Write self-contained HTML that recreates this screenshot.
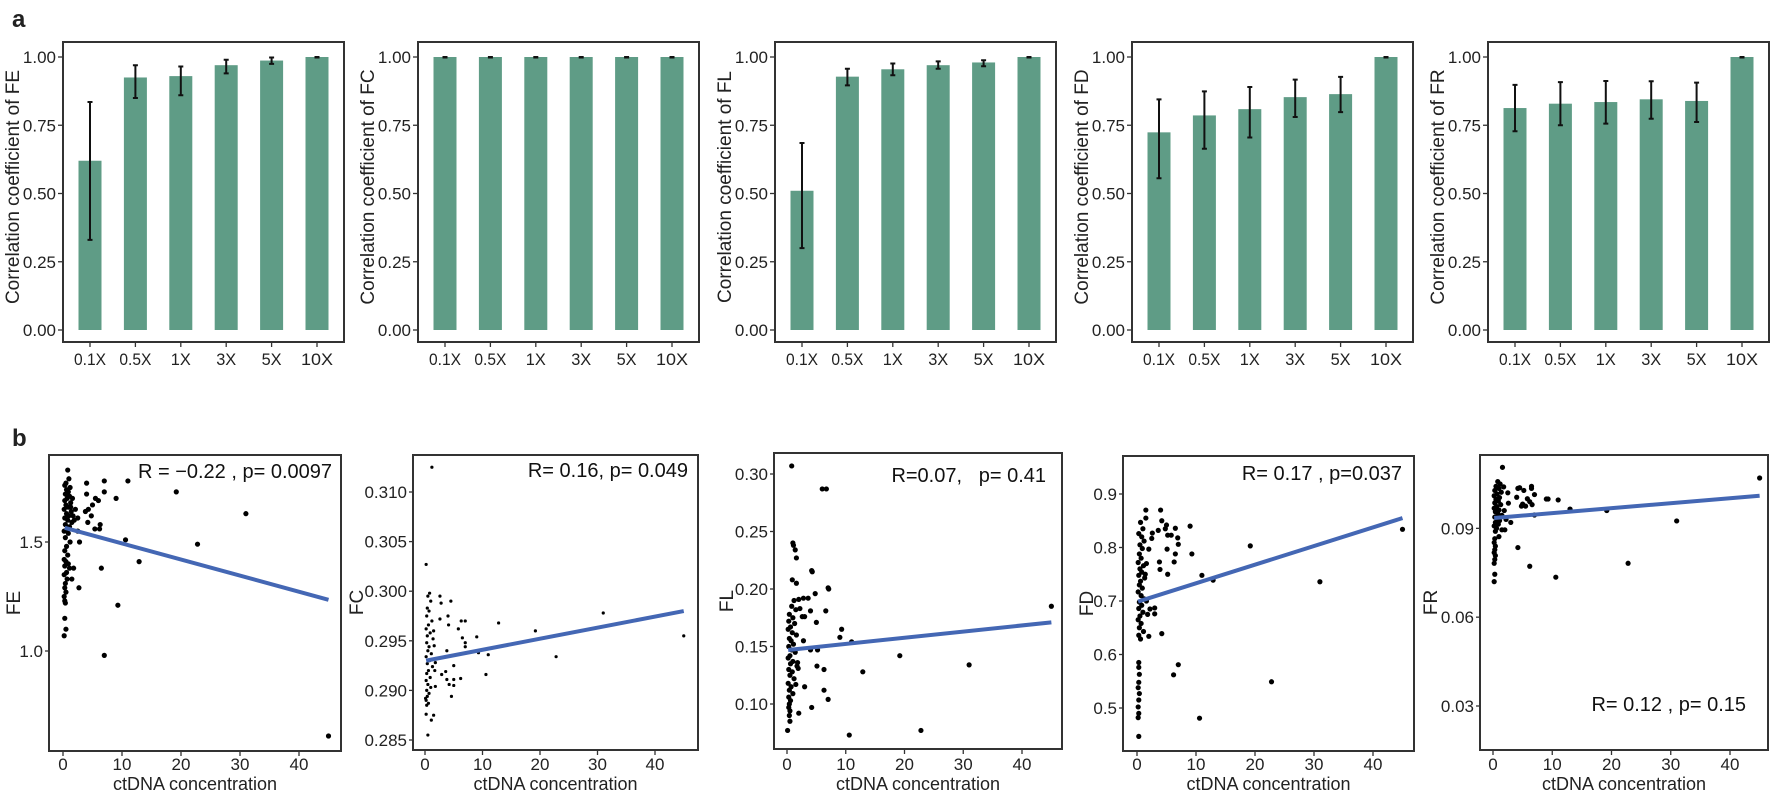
<!DOCTYPE html>
<html><head><meta charset="utf-8">
<style>
html,body{margin:0;padding:0;background:#fff;}
svg{display:block;font-family:"Liberation Sans",Arial,sans-serif;}
</style></head>
<body>
<svg id="fig" width="1772" height="794" viewBox="0 0 1772 794">
<text x="12" y="27" font-size="24" font-weight="bold" fill="#222">a</text>
<text x="12" y="446" font-size="24" font-weight="bold" fill="#222">b</text>
</svg>
<script>
// ---------- bar chart data ----------
const barCategories = ["0.1X","0.5X","1X","3X","5X","10X"];
const barMetrics = ["FE","FC","FL","FD","FR"];
const feMean = [0.62,0.925,0.93,0.97,0.987,1.0];
const feLo   = [0.33,0.85,0.86,0.94,0.975,0.998];
const feHi   = [0.835,0.97,0.965,0.99,0.998,1.0];
const fcMean = [1.0,1.0,1.0,1.0,1.0,1.0];
const fcLo   = [0.998,0.998,0.998,0.998,0.998,0.998];
const fcHi   = [1.0,1.0,1.0,1.0,1.0,1.0];
const flMean = [0.51,0.928,0.955,0.97,0.98,1.0];
const flLo   = [0.30,0.896,0.933,0.957,0.966,0.998];
const flHi   = [0.685,0.957,0.976,0.984,0.988,1.0];
const fdMean = [0.724,0.786,0.809,0.853,0.864,1.0];
const fdLo   = [0.556,0.664,0.705,0.780,0.798,0.998];
const fdHi   = [0.845,0.874,0.890,0.917,0.927,1.0];
const frMean = [0.813,0.829,0.835,0.845,0.839,1.0];
const frLo   = [0.728,0.750,0.756,0.774,0.762,0.998];
const frHi   = [0.898,0.908,0.912,0.911,0.906,1.0];
const barTicks = [0,0.25,0.5,0.75,1.0];
const barTickLabels = ["0.00","0.25","0.50","0.75","1.00"];

// ---------- scatter data ----------
const scatterXTicks = [0,10,20,30,40];
const feXY = [[0.8,1.83],[1.0,1.79],[0.5,1.77],[0.3,1.76],[1.2,1.75],[0.6,1.74],[0.9,1.73],[0.4,1.72],[1.1,1.71],[0.7,1.70],[0.3,1.69],[1.3,1.68],[0.5,1.67],[0.9,1.66],[0.2,1.65],[1.4,1.64],[0.6,1.63],[1.0,1.62],[0.3,1.61],[0.8,1.60],[1.5,1.59],[0.4,1.58],[1.1,1.57],[0.7,1.56],[0.2,1.55],[0.9,1.54],[0.4,1.52],[1.2,1.50],[0.6,1.48],[0.3,1.46],[0.8,1.44],[0.2,1.42],[0.5,1.41],[0.9,1.40],[0.3,1.39],[1.1,1.38],[0.6,1.36],[0.2,1.35],[0.7,1.33],[0.4,1.31],[0.3,1.29],[0.5,1.27],[0.2,1.25],[0.3,1.23],[0.4,1.22],[0.3,1.15],[0.5,1.10],[0.2,1.07],[1.6,1.70],[1.3,1.66],[1.7,1.62],[1.9,1.60],[2.1,1.65],
[7,0.98],[9.3,1.21],[6.5,1.38],[12.9,1.41],[10.6,1.51],[22.8,1.49],[31,1.63],[19.2,1.73],[45,0.61],[11,1.78],[7,1.78],[4,1.77],[9,1.70],[7,1.73],[6,1.69],[5.5,1.70],[5,1.67],[4.3,1.65],[3.8,1.64],[4.8,1.62],[6.3,1.58],[6.2,1.56],[5.4,1.56],[4.2,1.59],[2.8,1.50],[2.7,1.29],[1.5,1.33],[1.8,1.38],[2.5,1.55],[2.5,1.61],[4,1.72]];
const fcXY = [[1.2,0.3125],[0.2,0.3027],[0.5,0.2855],[12.8,0.2968],[19.2,0.2960],[22.8,0.2934],[31,0.2978],[45,0.2955],[10.6,0.2916],[9,0.2954],[9.3,0.2938],[11,0.2936],[7,0.2970],[6.3,0.2970],[5.8,0.2962],[6.5,0.2953],[7,0.2948],[7,0.2944],[4.5,0.2990],[4,0.2975],[4.1,0.2966],[3.8,0.2940],[4.2,0.2906],[3.8,0.2911],[3.6,0.2919],[5,0.2925],[5,0.2911],[5,0.2905],[4.6,0.2894],[6.2,0.2912],[2.8,0.2988],[2.6,0.2995],[2.6,0.2972],[2.9,0.2916],[1.8,0.2928],[1.8,0.2904],[1.5,0.2875],[1.1,0.2870],
[0.8,0.2998],[0.5,0.2995],[1.0,0.2990],[0.4,0.2983],[0.7,0.2980],[0.3,0.2975],[1.2,0.2970],[0.6,0.2966],[0.2,0.2962],[0.9,0.2958],[0.4,0.2955],[1.4,0.2952],[0.3,0.2948],[0.7,0.2944],[0.5,0.2940],[1.1,0.2937],[0.2,0.2934],[0.8,0.2930],[0.4,0.2927],[1.3,0.2924],[0.6,0.2920],[0.3,0.2917],[0.9,0.2913],[0.2,0.2910],[0.5,0.2906],[1.0,0.2903],[0.3,0.2900],[0.7,0.2897],[0.4,0.2894],[0.2,0.2890],[0.6,0.2887],[0.3,0.2885],[1.5,0.2960],[1.6,0.2945],[1.7,0.2920],[0.1,0.2892],[0.2,0.2876]];
const flXY = [[0.8,0.307],[6,0.287],[6.7,0.287],[45,0.185],[19.2,0.142],[31,0.134],[22.8,0.077],[10.6,0.073],[12.9,0.128],[9.3,0.165],[9,0.158],[11,0.154],[7,0.201],[7.1,0.200],[4.2,0.216],[4.3,0.215],[4.8,0.196],[3.6,0.192],[2.8,0.192],[2,0.191],[6.6,0.181],[4,0.181],[5,0.171],[3,0.176],[2.6,0.176],[2.8,0.155],[5.2,0.147],[4,0.147],[5.1,0.133],[6.3,0.130],[3,0.115],[6.3,0.112],[7,0.104],[4.2,0.097],[2,0.092],[1,0.240],[1.1,0.238],[1.4,0.234],[1.6,0.227],[0.9,0.208],[1.6,0.205],
[1.2,0.190],[0.8,0.185],[1.5,0.182],[0.4,0.178],[1.0,0.175],[0.3,0.172],[1.3,0.170],[0.6,0.167],[0.2,0.165],[0.9,0.162],[1.6,0.160],[0.4,0.157],[0.7,0.155],[1.1,0.152],[0.3,0.150],[0.8,0.147],[1.4,0.145],[0.5,0.142],[0.2,0.140],[1.0,0.137],[0.6,0.135],[1.7,0.133],[0.3,0.130],[0.9,0.128],[0.5,0.125],[1.2,0.122],[0.2,0.118],[0.7,0.115],[0.4,0.112],[1.0,0.109],[0.3,0.106],[0.6,0.103],[0.4,0.100],[0.3,0.097],[0.5,0.094],[0.4,0.090],[0.5,0.085],[0.1,0.077],[1.8,0.136],[1.9,0.131],[1.5,0.117],[2.2,0.183]];
const fdXY = [[45,0.834],[19.2,0.803],[31,0.736],[22.8,0.549],[10.6,0.481],[12.9,0.739],[11,0.748],[9.3,0.788],[9,0.840],[7,0.581],[6.2,0.562],[4.2,0.639],[1.5,0.870],[4,0.870],[4.2,0.850],[5,0.842],[6.5,0.836],[4.8,0.835],[3.6,0.832],[5.2,0.823],[5.8,0.823],[6.9,0.818],[7,0.806],[5.1,0.797],[6.5,0.788],[6.3,0.773],[3.8,0.773],[3.9,0.759],[5.2,0.750],[3,0.687],[3,0.676],[2.2,0.685],[2,0.634],[2,0.797],[2.6,0.827],[2.5,0.817],[1.5,0.855],
[0.6,0.847],[1.0,0.835],[0.3,0.826],[0.8,0.820],[1.2,0.812],[0.5,0.805],[0.9,0.798],[0.4,0.788],[0.7,0.780],[0.2,0.772],[1.1,0.766],[0.5,0.760],[0.8,0.754],[0.3,0.748],[1.3,0.743],[0.6,0.737],[0.4,0.730],[0.9,0.724],[0.2,0.717],[0.7,0.710],[1.2,0.704],[0.4,0.698],[0.8,0.692],[0.3,0.686],[1.0,0.679],[0.5,0.672],[0.2,0.665],[0.7,0.658],[0.4,0.650],[1.1,0.643],[0.3,0.636],[0.6,0.629],[0.3,0.585],[0.3,0.576],[0.4,0.563],[0.3,0.548],[0.2,0.538],[0.4,0.527],[0.3,0.515],[0.2,0.502],[0.3,0.490],[0.2,0.482],[0.3,0.447],[1.6,0.700],[1.8,0.675],[1.4,0.750],[1.6,0.770]];
const frXY = [[1.6,0.1106],[45,0.1070],[31,0.0925],[22.8,0.0782],[19.2,0.0960],[10.6,0.0735],[6.2,0.0772],[4.2,0.0835],[11,0.0996],[9,0.0999],[9.3,0.0999],[13,0.0965],[7,0.1014],[7,0.0945],[6.5,0.1042],[6.5,0.1035],[5.8,0.1000],[5.2,0.1028],[4.5,0.1037],[4.2,0.1035],[4,0.1005],[5,0.0982],[5.5,0.0975],[6.2,0.0990],[6.6,0.0980],[4.8,0.0975],[2.6,0.0985],[3,0.0920],[2,0.0895],[1.5,0.0895],[2.5,0.1020],
[0.8,0.1058],[1.2,0.1050],[0.5,0.1042],[1.0,0.1035],[0.3,0.1028],[1.4,0.1022],[0.7,0.1016],[0.2,0.1010],[1.1,0.1004],[0.5,0.0998],[0.9,0.0992],[0.3,0.0986],[1.3,0.0980],[0.6,0.0974],[0.2,0.0968],[1.0,0.0962],[0.4,0.0956],[0.8,0.0950],[1.5,0.0944],[0.3,0.0938],[0.7,0.0932],[1.1,0.0926],[0.4,0.0920],[0.9,0.0914],[0.2,0.0908],[0.6,0.0900],[0.4,0.0890],[1.0,0.0872],[0.3,0.0865],[0.2,0.0852],[0.4,0.0840],[0.3,0.0828],[0.2,0.0818],[0.4,0.0808],[0.3,0.0795],[0.2,0.0782],[0.3,0.0745],[0.2,0.0720],[1.8,0.1040],[1.9,0.0960],[2.2,0.0930]];
const feFit = [0.3,1.565,45,1.235];
const fcFit = [0.2,0.2930,45,0.2980];
const flFit = [0.2,0.147,45,0.171];
const fdFit = [0.2,0.699,45,0.855];
const frFit = [0.2,0.0935,45,0.101];

const NS = "http://www.w3.org/2000/svg";
const svg = document.getElementById("fig");
function mk(tag, attrs, parent){
  const e = document.createElementNS(NS, tag);
  for (const k in attrs) e.setAttribute(k, attrs[k]);
  (parent||svg).appendChild(e);
  return e;
}

// ---------- bar panels ----------
const barSets = [[feMean,feLo,feHi],[fcMean,fcLo,fcHi],[flMean,flLo,flHi],[fdMean,fdLo,fdHi],[frMean,frLo,frHi]];
const barLefts = [63,418,775,1132,1488];
barSets.forEach((set, p) => {
  const L = barLefts[p], R = L + 281, T = 42, B = 342;
  const y = v => 330 - v * 273;
  const x = i => L + 27 + i * 45.4;
  const g = mk("g", {});
  
  
  set[0].forEach((v, i) => {
    const r = mk("rect", {x: x(i) - 11.5, y: y(v), width: 23, height: y(0) - y(v), fill: "#5f9c86"}, g);
    
    
    const eb = mk("path", {d: `M${x(i)},${y(set[1][i])}V${y(set[2][i])}M${x(i)-2.5},${y(set[1][i])}h5M${x(i)-2.5},${y(set[2][i])}h5`, stroke: "#111", "stroke-width": 2, fill: "none"}, g);
    
    
    mk("line", {x1: x(i), x2: x(i), y1: B, y2: B + 5, stroke: "#333", "stroke-width": 1.3}, g);
    const t = mk("text", {x: x(i), y: 365, "font-size": 17, "text-anchor": "middle", fill: "#222", textLength: barCategories[i].length > 2 ? 32 : (barCategories[i].length > 1 ? 20 : 12), lengthAdjust: "spacingAndGlyphs"}, g);
    t.textContent = barCategories[i];
    
    
  });
  barTicks.forEach((v, k) => {
    mk("line", {x1: L - 5, x2: L, y1: y(v), y2: y(v), stroke: "#333", "stroke-width": 1.3}, g);
    const t = mk("text", {x: L - 7, y: y(v) + 6, "font-size": 17, "text-anchor": "end", fill: "#222"}, g);
    t.textContent = barTickLabels[k];
    
    
  });
  const fr = mk("rect", {x: L, y: T, width: R - L, height: B - T, fill: "none", stroke: "#333", "stroke-width": 2}, g);
  
  
  const yt = mk("text", {x: 0, y: 0, "font-size": 19, "text-anchor": "middle", fill: "#222", transform: `translate(${L - 44},${(T + B) / 2 - 5}) rotate(-90)`}, g);
  yt.textContent = "Correlation coefficient of " + barMetrics[p];
  
  
});

// ---------- scatter panels ----------
const scatterSets = [feXY, fcXY, flXY, fdXY, frXY];
const fits = [feFit, fcFit, flFit, fdFit, frFit];
const yTickSets = [[1.0,1.5],[0.285,0.29,0.295,0.3,0.305,0.31],[0.10,0.15,0.20,0.25,0.30],[0.5,0.6,0.7,0.8,0.9],[0.03,0.06,0.09]];
const yTickLabelSets = [["1.0","1.5"],["0.285","0.290","0.295","0.300","0.305","0.310"],["0.10","0.15","0.20","0.25","0.30"],["0.5","0.6","0.7","0.8","0.9"],["0.03","0.06","0.09"]];
const statTexts = [
  'R = \u22120.22 , p= 0.0097',
  'R= 0.16, p= 0.049',
  'R=0.07,\u00a0\u00a0 p= 0.41',
  'R= 0.17 , p=0.037',
  'R= 0.12 , p= 0.15'
];
const geo = [
  {L:49,R:341,T:455,B:751,x0:63,xs:5.9,yv:1.0,yp:651,ys:218,r:2.6,tx:332,ty:478,yl:13},
  {L:413,R:698,T:455,B:750,x0:425,xs:5.75,yv:0.285,yp:740,ys:9920,r:1.6,tx:688,ty:477,yl:356},
  {L:774,R:1062,T:453,B:749,x0:787,xs:5.875,yv:0.10,yp:704,ys:1150,r:2.6,tx:1046,ty:482,yl:726},
  {L:1123,R:1414,T:456,B:751,x0:1137,xs:5.9,yv:0.5,yp:708,ys:535,r:2.6,tx:1402,ty:480,yl:1086},
  {L:1480,R:1768,T:455,B:750,x0:1493,xs:5.925,yv:0.03,yp:706,ys:2961,r:2.6,tx:1746,ty:711,yl:1430}
];
scatterSets.forEach((pts, p) => {
  const G = geo[p];
  const X = v => G.x0 + v * G.xs;
  const Y = v => G.yp - (v - G.yv) * G.ys;
  const g = mk("g", {});
  
  
  pts.forEach(pt => {
    const c = mk("circle", {cx: X(pt[0]), cy: Y(pt[1]), r: G.r, fill: "#000"}, g);
    
    
  });
  const f = fits[p];
  const ln = mk("line", {x1: X(f[0]), y1: Y(f[1]), x2: X(f[2]), y2: Y(f[3]), stroke: "#4467b4", "stroke-width": 4}, g);
  
  
  scatterXTicks.forEach(v => {
    mk("line", {x1: X(v), x2: X(v), y1: G.B, y2: G.B + 5, stroke: "#333", "stroke-width": 1.3}, g);
    const t = mk("text", {x: X(v), y: 770, "font-size": 17, "text-anchor": "middle", fill: "#222"}, g);
    t.textContent = String(v);
    
    
  });
  yTickSets[p].forEach((v, k) => {
    mk("line", {x1: G.L - 4, x2: G.L, y1: Y(v), y2: Y(v), stroke: "#333", "stroke-width": 1.3}, g);
    const t = mk("text", {x: G.L - 6, y: Y(v) + 6, "font-size": 17, "text-anchor": "end", fill: "#222"}, g);
    t.textContent = yTickLabelSets[p][k];
    
    
  });
  const fr = mk("rect", {x: G.L, y: G.T, width: G.R - G.L, height: G.B - G.T, fill: "none", stroke: "#333", "stroke-width": 2}, g);
  
  
  const xt = mk("text", {x: (G.L + G.R) / 2, y: 790, "font-size": 18, "text-anchor": "middle", fill: "#222"}, g);
  xt.textContent = "ctDNA concentration";
  
  
  const yt = mk("text", {x: 0, y: 0, "font-size": 19, "text-anchor": "middle", fill: "#222", transform: `translate(${G.yl + 7},${(G.T + G.B) / 2}) rotate(-90)`}, g);
  yt.textContent = barMetrics[p];
  
  
  const st = mk("text", {x: G.tx, y: G.ty, "font-size": 20, "text-anchor": "end", fill: "#111"}, g);
  st.textContent = statTexts[p];
  
  
});
</script>
</body></html>
